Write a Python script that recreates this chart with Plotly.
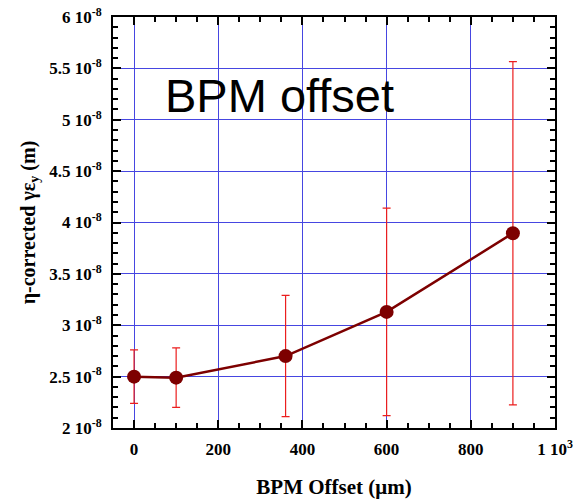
import plotly.graph_objects as go

# BPM offset scan: emittance vs offset
offset_um = [0, 100, 360, 600, 900]
emittance = [2.50e-8, 2.49e-8, 2.70e-8, 3.13e-8, 3.895e-8]
emittance_err = [0.26e-8, 0.29e-8, 0.59e-8, 1.01e-8, 1.67e-8]

x_tickvals = [0, 200, 400, 600, 800, 1000]
x_ticktext = ["0", "200", "400", "600", "800", "1 10<sup>3</sup>"]
y_tickvals = [2e-8, 2.5e-8, 3e-8, 3.5e-8, 4e-8, 4.5e-8, 5e-8, 5.5e-8, 6e-8]
y_ticktext = ["2 10<sup>-8</sup>", "2.5 10<sup>-8</sup>", "3 10<sup>-8</sup>",
              "3.5 10<sup>-8</sup>", "4 10<sup>-8</sup>", "4.5 10<sup>-8</sup>",
              "5 10<sup>-8</sup>", "5.5 10<sup>-8</sup>", "6 10<sup>-8</sup>"]

serif = "Liberation Serif"
grid_color = "rgb(70,70,225)"

fig = go.Figure()
fig.add_trace(go.Scatter(
    x=offset_um, y=emittance, mode="lines+markers",
    line=dict(color="rgb(125,0,0)", width=2.5),
    marker=dict(color="rgb(125,0,0)", size=14),
    error_y=dict(type="data", array=emittance_err, visible=True,
                 color="rgb(235,30,30)", thickness=1.2, width=4),
    showlegend=False,
))

fig.add_annotation(
    x=0.113, y=0.808, xref="paper", yref="paper", xanchor="left", yanchor="middle",
    text="BPM offset", showarrow=False,
    font=dict(family="Liberation Sans", size=47, color="black"),
)

axis_common = dict(
    showline=True, linecolor="black", linewidth=2, mirror="ticks",
    ticks="inside", ticklen=8, tickwidth=1.5, tickcolor="black",
    showgrid=True, gridcolor=grid_color, gridwidth=1, zeroline=False,
    automargin=False,
)

fig.update_xaxes(
    range=[-50, 1000], tickmode="array", tickvals=x_tickvals, ticktext=x_ticktext,
    tickfont=dict(family=serif, size=17, color="black", weight="bold"),
    ticklabelstandoff=5,
    minor=dict(ticks="inside", ticklen=5, tick0=0, dtick=50, tickcolor="black", showgrid=False),
    title=dict(text="BPM Offset (μm)", standoff=21,
               font=dict(family=serif, size=21, color="black", weight="bold")),
    **axis_common,
)
fig.update_yaxes(
    range=[2e-8, 6e-8], tickmode="array", tickvals=y_tickvals, ticktext=y_ticktext,
    tickfont=dict(family=serif, size=17, color="black", weight="bold"),
    ticklabelstandoff=6,
    minor=dict(ticks="inside", ticklen=5, tick0=0, dtick=1e-9, tickcolor="black", showgrid=False),
    title=dict(text="η-corrected γε<sub>y</sub> (m)", standoff=8,
               font=dict(family=serif, size=20, color="black", weight="bold")),
    **axis_common,
)

fig.update_layout(
    width=573, height=501,
    margin=dict(l=113, r=18, t=17, b=73),
    paper_bgcolor="white", plot_bgcolor="white",
)

fig.write_html("out.html")
